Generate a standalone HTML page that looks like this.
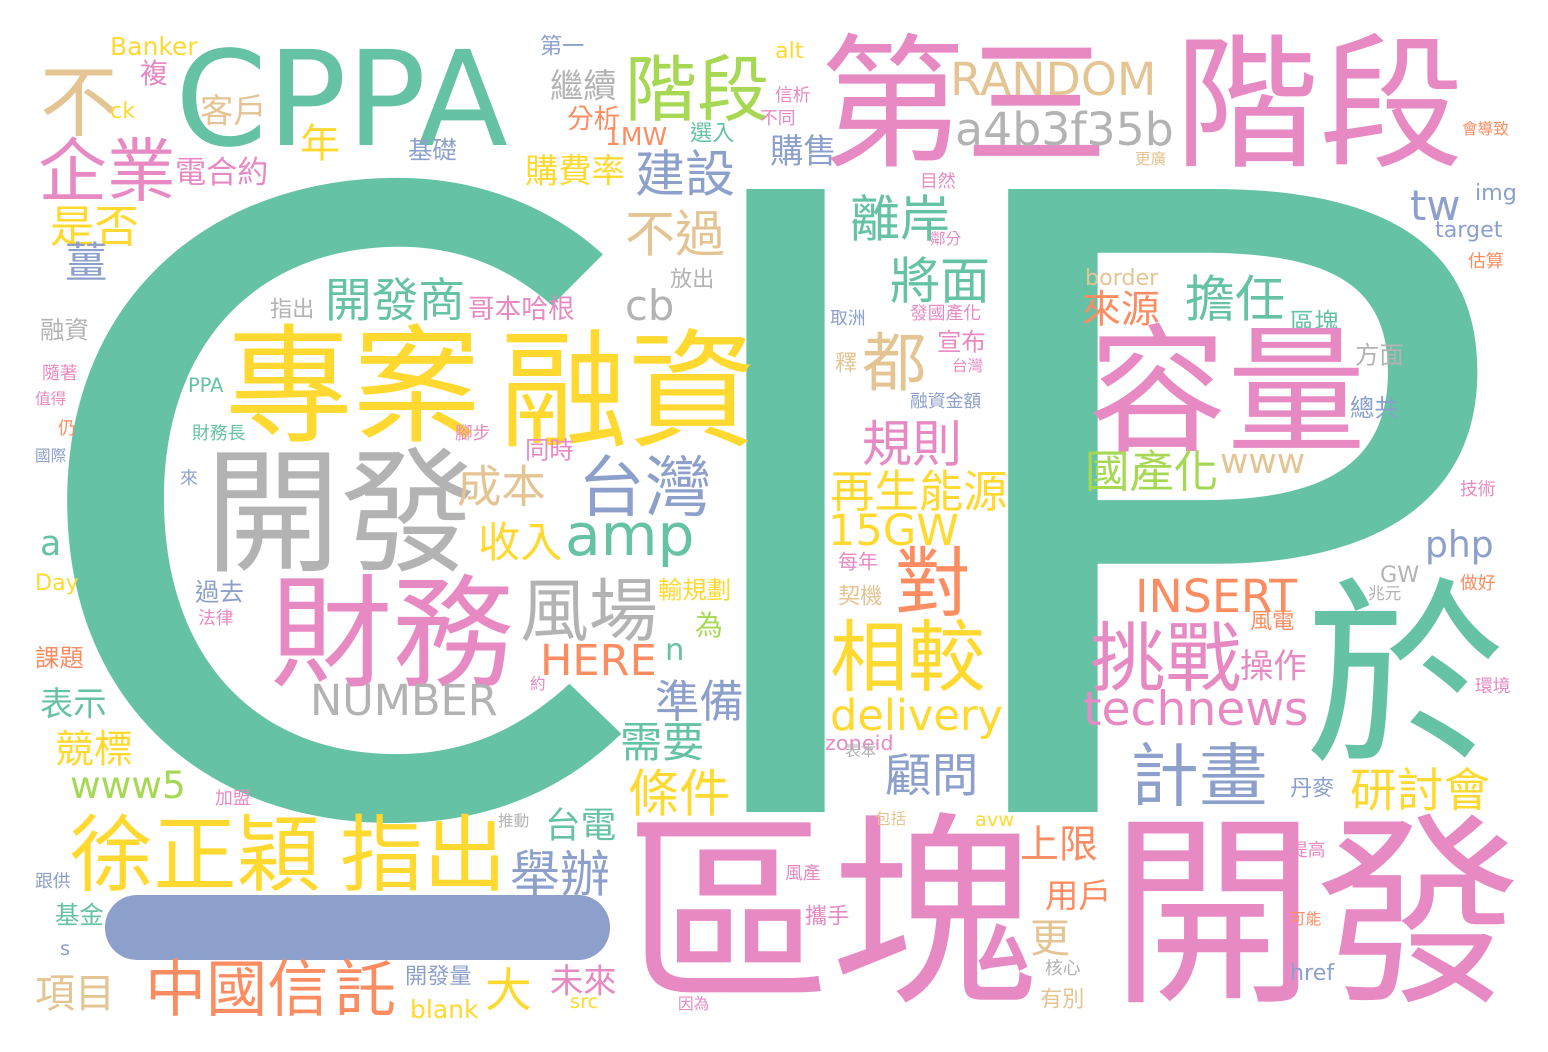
<!DOCTYPE html>
<html><head><meta charset="utf-8">
<style>
html,body{margin:0;padding:0;background:#fff;}
svg{display:block;}
text{font-family:"Liberation Sans","Noto Sans CJK TC",sans-serif;}
</style></head>
<body>
<svg id="cloud" width="1548" height="1052" viewBox="0 0 1548 1052" xmlns="http://www.w3.org/2000/svg">
<rect width="1548" height="1052" fill="#ffffff"/>
<g fill="#66c2a5">
<text x="8" y="812" font-size="850" textLength="650" lengthAdjust="spacingAndGlyphs" style="font-family:'Noto Sans CJK TC',sans-serif">C</text>
<text x="785" y="812" font-size="850" text-anchor="middle" style="font-family:'Noto Sans CJK TC',sans-serif">I</text>
<text x="910" y="812" font-size="850" textLength="615" lengthAdjust="spacingAndGlyphs" style="font-family:'Noto Sans CJK TC',sans-serif">P</text>
</g>
<rect x="105" y="895" width="505" height="65" rx="32" fill="#8da0cb"/>
<g id="words"></g>
</svg>
<script>
const C={t:"#66c2a5",o:"#fc8d62",b:"#8da0cb",p:"#e78ac3",g:"#a6d854",y:"#ffd92f",n:"#e5c494",r:"#b3b3b3"};
// [text, left x, bottom y, visible height, colour key]
const words=[
["第三",820,165,130,"p"],["階段",1175,165,130,"p"],["CPPA",175,145,95,"t"],["不",40,135,70,"n"],
["階段",625,120,65,"g"],["RANDOM",950,95,33,"n"],["a4b3f35b",955,145,33,"r"],["企業",38,200,62,"p"],
["客戶",200,125,30,"n"],["年",300,160,36,"y"],["電合約",175,185,28,"p"],["是否",50,245,40,"y"],
["建設",635,195,45,"b"],["購費率",525,185,30,"y"],["購售",770,165,30,"b"],["繼續",550,100,30,"r"],
["分析",567,130,24,"o"],["1MW",605,145,18,"o"],["基礎",408,160,22,"b"],["不過",625,255,45,"n"],
["離岸",850,240,45,"t"],["將面",890,302,45,"t"],["開發商",325,320,42,"t"],["哥本哈根",468,320,24,"p"],
["cb",625,320,30,"r"],["擔任",1185,320,45,"t"],["來源",1082,325,35,"o"],["區塊",1290,332,22,"t"],
["都",862,390,58,"n"],["宣布",937,352,22,"p"],["專案",225,440,115,"y"],["融資",500,445,115,"y"],
["容量",1088,450,125,"p"],["開發",205,570,122,"r"],["台灣",578,515,60,"b"],["amp",565,555,42,"t"],
["規則",862,465,45,"p"],["國產化",1085,490,40,"g"],["www",1220,473,25,"n"],["成本",457,505,40,"n"],
["收入",478,560,38,"y"],["a",40,555,25,"t"],["再生能源",830,510,40,"y"],["15GW",828,545,31,"y"],
["財務",270,685,110,"p"],["風場",520,640,62,"r"],["對",895,615,68,"o"],["相較",830,690,70,"y"],
["挑戰",1090,690,68,"p"],["INSERT",1135,612,33,"o"],["php",1425,557,26,"b"],["於",1305,760,180,"t"],
["HERE",540,675,31,"o"],["n",665,660,22,"t"],["NUMBER",310,715,31,"r"],["準備",655,720,40,"b"],
["technews",1083,725,34,"p"],["操作",1240,680,30,"p"],["delivery",830,730,31,"y"],["表示",40,718,30,"t"],
["需要",620,760,38,"t"],["競標",55,765,35,"y"],["www5",70,798,27,"g"],["條件",628,815,46,"y"],
["顧問",885,795,42,"b"],["計畫",1130,805,62,"b"],["研討會",1350,810,42,"y"],["徐正穎",70,890,75,"y"],
["指出",340,890,75,"y"],["台電",545,840,32,"t"],["舉辦",510,895,45,"b"],["區塊",625,1000,185,"p"],
["開發",1110,1000,185,"p"],["上限",1020,860,35,"o"],["用戶",1045,910,30,"o"],["更",1030,955,36,"n"],
["中國信",145,1015,55,"o"],["託",335,1015,55,"o"],["大",485,1010,42,"y"],["未來",550,995,30,"p"],
["項目",35,1010,36,"n"],["blank",410,1018,18,"y"],["開發量",405,985,20,"b"],["Banker",110,55,18,"y"],
["alt",775,58,16,"y"],["tw",1410,220,30,"b"],["img",1475,200,16,"b"],["target",1435,237,16,"b"],
["border",1085,285,16,"n"],["方面",1355,365,22,"r"],["總共",1350,418,22,"b"],["複",140,85,25,"p"],
["薑",65,280,38,"b"],["融資",40,340,22,"r"],["zoneid",825,750,15,"p"],["為",695,637,25,"g"],
["輸規劃",658,600,22,"y"],["過去",195,602,22,"b"],["同時",525,460,22,"p"],["第一",540,55,20,"b"],
["選入",690,142,20,"t"],["GW",1380,582,16,"r"],["丹麥",1290,797,20,"b"],["基金",55,925,22,"t"],
["課題",35,668,22,"o"],["Day",35,590,16,"y"],["href",1290,980,16,"b"],["有別",1040,1008,20,"n"],
["src",570,1008,14,"y"],["avw",975,826,14,"y"],["ck",110,118,16,"y"],["指出",270,318,20,"r"],
["放出",670,288,20,"r"],["風電",1250,630,20,"o"],["技術",1460,496,16,"p"],["提高",1290,857,16,"p"],
["估算",1468,268,16,"o"],["做好",1460,590,16,"o"],["環境",1475,693,16,"p"],["兆元",1368,600,15,"r"],
["每年",838,570,18,"p"],["契機",838,605,20,"n"],["釋",835,372,20,"n"],["取洲",830,325,16,"b"],
["加盟",215,805,16,"p"],["表本",845,757,14,"r"],["推動",498,827,14,"r"],["包括",875,825,14,"n"],
["攜手",805,925,20,"p"],["風產",785,880,16,"p"],["核心",1045,975,16,"r"],["因為",678,1010,14,"p"],
["PPA",188,392,14,"t"],["財務長",192,440,16,"t"],["來",180,485,16,"b"],["法律",198,625,16,"p"],
["腳步",455,440,16,"p"],["約",530,690,14,"p"],["目然",920,188,16,"p"],
["鄰分",930,245,14,"p"],["發國產化",910,320,16,"p"],["台灣",952,372,14,"p"],["融資金額",910,408,16,"b"],
["跟供",35,888,16,"b"],["s",60,955,14,"b"],["可能",1290,925,14,"o"],
["仍",58,435,16,"o"],["國際",35,462,14,"b"],["隨著",42,380,16,"p"],["值得",35,405,14,"p"],
["更廣",1135,165,14,"n"],["會導致",1462,135,14,"o"],["不同",760,125,16,"p"],["信析",775,102,16,"p"]
];
const g=document.getElementById('words');
const NS='http://www.w3.org/2000/svg';
function isCJK(s){return /[\u3400-\u9fff]/.test(s);}
words.forEach(function(w){
  if(!w[3])return;
  const t=document.createElementNS(NS,'text');
  const cjk=isCJK(w[0]);
  const size=cjk?w[3]/0.9:w[3]/0.72;
  const base=cjk?w[2]-0.07*size:w[2];
  t.setAttribute('x',w[1]);
  t.setAttribute('y',base.toFixed(1));
  t.setAttribute('font-size',size.toFixed(1));
  t.setAttribute('fill',C[w[4]]);
  t.setAttribute('style',"font-family:"+(cjk?"'Noto Sans CJK TC',sans-serif":"'DejaVu Sans','Liberation Sans',sans-serif"));
  t.textContent=w[0];
  
  
  g.appendChild(t);
});
</script>
</body></html>
